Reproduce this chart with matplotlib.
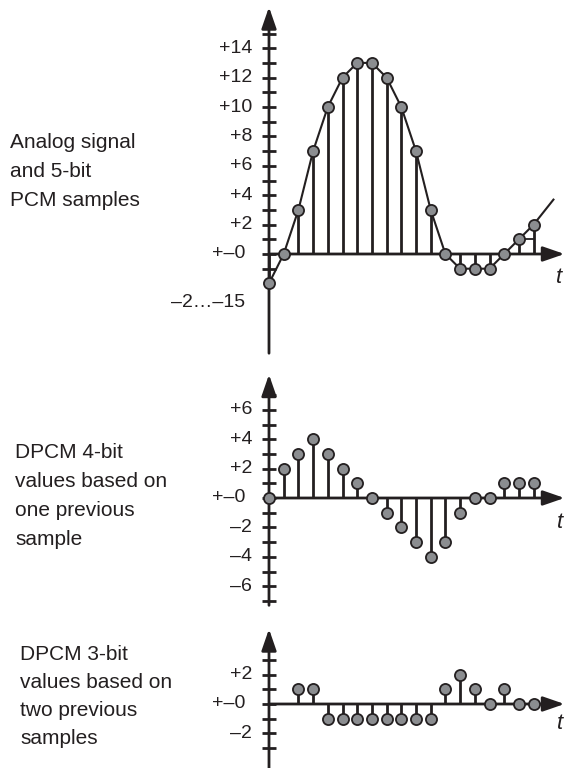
import numpy as np
import matplotlib
matplotlib.use("Agg")
import matplotlib.pyplot as plt

# sample data
samples = np.arange(19)
pcm_values = [-2, 0, 3, 7, 10, 12, 13, 13, 12, 10, 7, 3, 0, -1, -1, -1, 0, 1, 2]
analog_t = list(range(19)) + [19.35]
analog_v = pcm_values + [3.7]
dpcm4_values = [0, 2, 3, 4, 3, 2, 1, 0, -1, -2, -3, -4, -3, -1, 0, 0, 1, 1, 1]
dpcm3_samples = np.arange(2, 19)
dpcm3_values = [1, 1, -1, -1, -1, -1, -1, -1, -1, -1, 1, 2, 1, 0, 1, 0, 0]

pcm_ticks = np.arange(-1, 16)
pcm_labels = {14: "+14", 12: "+12", 10: "+10", 8: "+8", 6: "+6", 4: "+4",
              2: "+2", 0: "+\u20130", -3.3: "\u20132\u2026\u201315"}
dpcm4_ticks = np.arange(-7, 8)
dpcm4_labels = {6: "+6", 4: "+4", 2: "+2", 0: "+\u20130",
                -2: "\u20132", -4: "\u20134", -6: "\u20136"}
dpcm3_ticks = np.arange(-3, 4)
dpcm3_labels = {2: "+2", 0: "+\u20130", -2: "\u20132"}

titles = [["Analog signal", "and 5-bit", "PCM samples"],
          ["DPCM 4-bit", "values based on", "one previous", "sample"],
          ["DPCM 3-bit", "values based on", "two previous", "samples"]]

plt.rcParams['font.family'] = ['Liberation Sans', 'DejaVu Sans']

DARK = "#231f20"
GRAY = "#8b8d90"
W, H = 567, 768
U = 14.7   # pixels per unit
X0 = 269   # pixel column of the vertical axis

fig = plt.figure(figsize=(W / 100, H / 100), dpi=100)


def make_panel(top_px, bot_px, zero_px):
    ax = fig.add_axes([0, 1 - bot_px / H, 1, (bot_px - top_px) / H])
    ax.set_xlim(-X0 / U, (W - X0) / U)
    ax.set_ylim(-(bot_px - zero_px) / U, (zero_px - top_px) / U)
    ax.axis('off')
    return ax


def draw_axes(ax, y_lo, y_tip, ticks, labels, t_x, t_y):
    arrow = dict(arrowstyle='-|>,head_length=1.3,head_width=0.45', lw=2,
                 color=DARK, mutation_scale=10, shrinkA=0, shrinkB=0)
    ax.annotate('', xy=(0, y_tip), xytext=(0, y_lo), arrowprops=arrow,
                annotation_clip=False)
    ax.annotate('', xy=(20.1, 0), xytext=(0, 0), arrowprops=arrow,
                annotation_clip=False)
    ax.plot(np.zeros(len(ticks)), ticks, ls='none', marker='_', ms=9.5,
            mew=2, color=DARK, clip_on=False)
    for v, s in labels.items():
        off = -1.6 if s.startswith("+\u2013") or "\u2026" in s else -1.15
        ax.text(off, v, s, ha='right', va='center', fontsize=14, color=DARK)
    ax.text(t_x, t_y, "t", fontsize=16, style='italic', ha='left',
            va='center', color=DARK)


def stems(ax, x, y):
    ax.vlines(x, 0, y, lw=2, color=DARK, zorder=3)
    ax.plot(x, y, ls='none', marker='o', ms=8, mfc=GRAY, mec=DARK, mew=1.3,
            zorder=5, clip_on=False)


# top: analog + PCM
ax1 = make_panel(0, 360, 254)
draw_axes(ax1, -6.75, 16.8, pcm_ticks, pcm_labels, 19.55, -1.6)
ax1.plot(analog_t, analog_v, lw=1.5, color=DARK, zorder=4)
ax1.plot([17, 18], [pcm_values[17], pcm_values[17]], lw=1.3, color=DARK)
stems(ax1, samples, pcm_values)

# middle: DPCM 4-bit
ax2 = make_panel(360, 610, 498)
draw_axes(ax2, -7.3, 8.4, dpcm4_ticks, dpcm4_labels, 19.6, -1.7)
stems(ax2, samples, dpcm4_values)

# bottom: DPCM 3-bit
ax3 = make_panel(610, 768, 704)
draw_axes(ax3, -4.4, 5.1, dpcm3_ticks, dpcm3_labels, 19.6, -1.3)
stems(ax3, dpcm3_samples, dpcm3_values)

# left descriptions
baselines = [[148, 177, 206], [458, 487, 516, 545], [660, 688, 716, 744]]
lefts = [10, 15, 20]
for lines, ys, x in zip(titles, baselines, lefts):
    for s, y in zip(lines, ys):
        fig.text(x / W, 1 - y / H, s, fontsize=15, va='baseline', color=DARK)

fig.savefig("out.png", dpi=100)
